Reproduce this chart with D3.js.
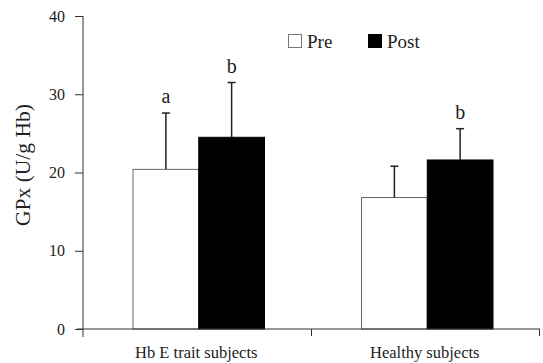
<!DOCTYPE html>
<html>
<head>
<meta charset="utf-8">
<script src="https://cdn.jsdelivr.net/npm/d3@7"></script>
<style>
  body { margin: 0; background: #fff; }
  text { font-family: "Liberation Serif", "Times New Roman", serif; fill: #222; }
</style>
</head>
<body>
<script>
// ** Data
const groups = ["Hb E trait subjects", "Healthy subjects"];
const series = ["Pre", "Post"];
const meanPre = [20.4, 16.8];
const meanPost = [24.5, 21.6];
const sdPre = [7.2, 4.0];
const sdPost = [7.0, 4.0];
const lettersPre = ["a", ""];
const lettersPost = ["b", "b"];
const yTicks = [0, 10, 20, 30, 40];

const rows = [];
groups.forEach((g, i) => {
  rows.push({ group: g, key: "Pre", value: meanPre[i], sd: sdPre[i], letter: lettersPre[i] });
  rows.push({ group: g, key: "Post", value: meanPost[i], sd: sdPost[i], letter: lettersPost[i] });
});

// ** Layout
const width = 543, height = 363;
const margin = { top: 16, right: 3, bottom: 34, left: 83 };
const innerW = width - margin.left - margin.right;
const innerH = height - margin.top - margin.bottom;

const svg = d3.select("body").append("svg")
  .attr("width", width)
  .attr("height", height);

const g = svg.append("g").attr("transform", `translate(${margin.left},${margin.top})`);

const x0 = d3.scaleBand().domain(groups).range([0, innerW]);
const x1 = d3.scaleBand().domain(series).range([50, x0.bandwidth() - 47]);
const y = d3.scaleLinear().domain([0, 40]).range([innerH, 0]);
const fill = d3.scaleOrdinal().domain(series).range(["#fff", "#000"]);

// ** Bars
const bar = g.selectAll("g.bar")
  .data(rows)
  .join("g")
  .attr("class", "bar")
  .attr("transform", d => `translate(${x0(d.group) + x1(d.key)},0)`);

bar.append("rect")
  .attr("x", 0)
  .attr("y", d => y(d.value))
  .attr("width", x1.bandwidth())
  .attr("height", d => innerH - y(d.value))
  .attr("fill", d => fill(d.key))
  .attr("stroke", d => d.key === "Pre" ? "#666" : "#000")
  .attr("stroke-width", 1);

// error bars (upper only)
bar.append("line")
  .attr("x1", x1.bandwidth() / 2)
  .attr("x2", x1.bandwidth() / 2)
  .attr("y1", d => y(d.value))
  .attr("y2", d => y(d.value + d.sd))
  .attr("stroke", "#222")
  .attr("stroke-width", 1.5);

bar.append("line")
  .attr("x1", x1.bandwidth() / 2 - 4)
  .attr("x2", x1.bandwidth() / 2 + 4)
  .attr("y1", d => y(d.value + d.sd))
  .attr("y2", d => y(d.value + d.sd))
  .attr("stroke", "#222")
  .attr("stroke-width", 1.5);

bar.append("text")
  .attr("x", x1.bandwidth() / 2)
  .attr("y", d => y(d.value + d.sd) - 10)
  .attr("text-anchor", "middle")
  .attr("font-size", 20)
  .text(d => d.letter);

// ** Axes
const yAxis = g.append("g")
  .call(d3.axisLeft(y).tickValues(yTicks).tickSize(8).tickSizeOuter(0).tickPadding(10));
yAxis.selectAll("text").attr("font-size", 16).style("font-family", "Liberation Serif, serif");
yAxis.select(".domain").attr("stroke", "#333").attr("d", `M0,0V${innerH + 8}`);
yAxis.selectAll(".tick line").attr("stroke", "#333");

const xAxis = g.append("g").attr("transform", `translate(0,${innerH})`);
xAxis.append("line")
  .attr("x1", -6).attr("x2", innerW)
  .attr("stroke", "#333");
xAxis.selectAll("line.tick")
  .data(groups.slice(1).concat(["end"]))
  .join("line")
  .attr("class", "tick")
  .attr("x1", d => d === "end" ? innerW - 0.5 : x0(d))
  .attr("x2", d => d === "end" ? innerW - 0.5 : x0(d))
  .attr("y1", 0).attr("y2", 7)
  .attr("stroke", "#333");
xAxis.selectAll("text")
  .data(groups)
  .join("text")
  .attr("x", d => x0(d) + x0.bandwidth() / 2 - 1)
  .attr("y", 29)
  .attr("text-anchor", "middle")
  .attr("font-size", 16.5)
  .text(d => d);

// y label
svg.append("text")
  .attr("transform", `translate(30,165) rotate(-90)`)
  .attr("text-anchor", "middle")
  .attr("font-size", 21.5)
  .text("GPx (U/g Hb)");

// ** Legend
const legend = svg.append("g").attr("transform", "translate(288,34)");
const item = legend.selectAll("g")
  .data(series)
  .join("g")
  .attr("transform", (d, i) => `translate(${i * 80},0)`);
item.append("rect")
  .attr("x", 0.5).attr("y", 0.5)
  .attr("width", 13).attr("height", 13)
  .attr("fill", d => fill(d))
  .attr("stroke", d => d === "Pre" ? "#777" : "#000");
item.append("text")
  .attr("x", 19).attr("y", 14)
  .attr("font-size", 19)
  .text(d => d);
</script>
</body>
</html>
